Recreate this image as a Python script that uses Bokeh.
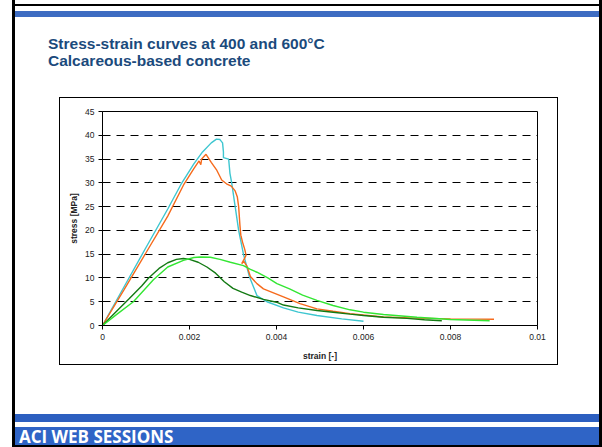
from bokeh.plotting import figure
from bokeh.models import FixedTicker, Range1d, Div, Spacer
from bokeh.layouts import column, row
from bokeh.embed import file_html
from bokeh.resources import INLINE

# ---------------- data ----------------
cyan_strain = [0, 0.0005, 0.001, 0.0015, 0.0018, 0.0021, 0.0023, 0.0025, 0.00262, 0.0027,
               0.00276, 0.00278, 0.00278, 0.0029, 0.00293, 0.00297, 0.00305, 0.00313, 0.00324,
               0.00338, 0.00355, 0.00378, 0.00416, 0.0045, 0.00493, 0.0055, 0.006]
cyan_stress = [0, 8.2, 16.4, 24.5, 29.6, 34.0, 36.5, 38.4, 39.2, 39.1,
               38.4, 36.5, 35.3, 35.0, 32.0, 30.0, 25.0, 20.0, 15.0,
               10.2, 6.3, 5.0, 3.7, 2.8, 2.1, 1.4, 0.9]

orange_strain = [0, 0.0005, 0.001, 0.0015, 0.00186, 0.0021, 0.00222, 0.00226, 0.00228, 0.00238,
                 0.0025, 0.00263, 0.00274, 0.00285, 0.00296, 0.00305, 0.0031, 0.00313, 0.00316,
                 0.00318, 0.00322, 0.00327, 0.0033, 0.00326, 0.0032, 0.00325, 0.00332, 0.0034,
                 0.00355, 0.0037, 0.00416, 0.00454, 0.00493, 0.0053, 0.00569, 0.00646, 0.00723,
                 0.008, 0.009]
orange_stress = [0, 7.6, 15.3, 23.0, 29.5, 33.0, 34.6, 33.8, 35.0, 36.0,
                 34.3, 32.6, 30.6, 29.8, 29.3, 28.3, 27.0, 25.0, 21.0,
                 19.0, 17.5, 16.0, 14.8, 14.0, 13.0, 13.5, 12.5, 10.3,
                 8.8, 7.7, 6.0, 4.6, 3.5, 3.0, 2.5, 1.8, 1.55,
                 1.4, 1.3]

dgreen_strain = [0, 0.0003, 0.0006, 0.0009, 0.00106, 0.0013, 0.0015, 0.0017, 0.00186, 0.002,
                 0.0022, 0.0024, 0.0026, 0.0028, 0.003, 0.0032, 0.0034, 0.0037, 0.004, 0.00416,
                 0.0045, 0.00493, 0.0053, 0.00569, 0.006, 0.00646, 0.007, 0.0074, 0.0078]
dgreen_stress = [0, 2.8, 5.5, 8.3, 10.0, 12.0, 13.2, 13.9, 14.1, 13.9,
                 13.3, 12.3, 11.0, 9.2, 7.8, 7.0, 6.3, 5.5, 4.9, 4.3,
                 3.7, 3.15, 2.8, 2.4, 2.1, 1.75, 1.5, 1.2, 1.0]

lgreen_strain = [0, 0.00035, 0.00071, 0.00117, 0.0015, 0.00186, 0.0021, 0.00225, 0.00248, 0.0027,
                 0.00294, 0.00324, 0.0034, 0.00355, 0.0038, 0.00401, 0.0043, 0.0046, 0.00493,
                 0.0053, 0.00569, 0.006, 0.00646, 0.00723, 0.008, 0.0089]
lgreen_stress = [0, 2.5, 5.0, 9.6, 12.3, 13.7, 14.3, 14.4, 14.35, 13.9,
                 13.3, 12.6, 11.8, 11.2, 10.0, 8.8, 7.7, 6.4, 5.3,
                 4.2, 3.3, 2.8, 2.3, 1.75, 1.25, 1.0]

x_ticks = [0, 0.002, 0.004, 0.006, 0.008, 0.01]
x_tick_labels = ["0", "0.002", "0.004", "0.006", "0.008", "0.01"]
y_ticks = [0, 5, 10, 15, 20, 25, 30, 35, 40, 45]
grid_ticks = [5, 10, 15, 20, 25, 30, 35, 40]

title_lines = ["Stress-strain curves at 400 and 600°C", "Calcareous-based concrete"]
x_label = "strain [-]"
y_label = "stress [MPa]"
footer = "ACI WEB SESSIONS"

# ---------------- chart ----------------
PW, PH = 497, 266
p = figure(width=PW, height=PH, output_backend="svg", toolbar_location=None,
           x_range=Range1d(0, 0.01), y_range=Range1d(0, 45),
           min_border_left=42, min_border_right=20,
           min_border_top=13, min_border_bottom=39, margin=0)
p.styles = {"box-shadow": "0 0 0 1px black"}
p.background_fill_color = "white"
p.border_fill_color = "white"
p.outline_line_color = "black"
p.outline_line_width = 1

p.line(cyan_strain, cyan_stress, line_color="#3EC6D0", line_width=1.4)
p.line(orange_strain, orange_stress, line_color="#F66A1C", line_width=1.4)
p.line(dgreen_strain, dgreen_stress, line_color="#137A13", line_width=1.4)
p.line(lgreen_strain, lgreen_stress, line_color="#33E633", line_width=1.4)

p.xaxis.ticker = FixedTicker(ticks=x_ticks)
p.xaxis.major_label_overrides = {t: l for t, l in zip(x_ticks, x_tick_labels)}
p.yaxis.ticker = FixedTicker(ticks=y_ticks)
for ax in (p.xaxis[0], p.yaxis[0]):
    ax.minor_tick_line_color = None
    ax.major_tick_in = 0
    ax.major_tick_out = 4
    ax.axis_line_color = "black"
    ax.major_tick_line_color = "black"
    ax.major_label_text_font = "Liberation Sans"
    ax.major_label_text_font_size = "8.5px"
    ax.major_label_text_color = "#222222"
    ax.major_label_standoff = 4
    ax.axis_label_text_font = "Liberation Sans"
    ax.axis_label_text_font_style = "bold"
    ax.axis_label_text_font_size = "8.5px"
    ax.axis_label_text_color = "#222222"
p.xaxis.axis_label = x_label
p.yaxis.axis_label = y_label
p.xaxis.axis_label_standoff = 8
p.yaxis.axis_label_standoff = 3

p.xgrid.grid_line_color = None
p.ygrid.ticker = FixedTicker(ticks=grid_ticks)
p.ygrid.grid_line_color = "black"
p.ygrid.grid_line_dash = "8 6"
p.ygrid.grid_line_width = 1

# ---------------- slide decorations ----------------
BLUE_TOP = "#3D6CC2"
BLUE_BAND = "#2C5FC0"
BLUE_FOOT = "#2F64C6"
TITLE_COLOR = "#1B4A7C"

def box(l, t, w, h, color):
    return (f'<div style="position:absolute;left:{l}px;top:{t}px;width:{w}px;'
            f'height:{h}px;background:{color};"></div>')

header_html = (
    '<div style="position:relative;width:602px;height:98px;overflow:hidden;">'
    + box(12, 4, 590, 2, "black")
    + box(15, 11, 584, 6, BLUE_TOP)
    + f'<div style="position:absolute;left:48px;top:35px;white-space:nowrap;'
      f'font-family:\'Liberation Sans\';font-weight:bold;font-size:15.5px;line-height:17px;'
      f'color:{TITLE_COLOR};">{title_lines[0]}<br>{title_lines[1]}</div>'
    + '</div>'
)
footer_html = (
    '<div style="position:relative;width:602px;height:83px;overflow:hidden;">'
    + box(15, 50, 584, 8, BLUE_BAND)
    + box(15, 63, 584, 18, BLUE_FOOT)
    + box(12, 81, 590, 2, "black")
    + f'<div style="position:absolute;left:19px;top:64px;white-space:nowrap;'
      f'font-family:\'Open Sans\';font-weight:bold;font-size:17px;line-height:17px;'
      f'color:white;">{footer}</div>'
    + '</div>'
)

header = Div(text=header_html, width=602, height=98, margin=0)
footer_div = Div(text=footer_html, width=602, height=83, margin=0)

mid = row(Spacer(width=60, height=PH, margin=0), p, Spacer(width=45, height=PH, margin=0),
          margin=0)
layout = column(header, mid, footer_div, margin=0)
layout.styles = {"background": "linear-gradient(to right, white 12px, black 12px, "
                               "black 15px, white 15px, white 599px, black 599px)"}

open("out.html", "w").write(file_html(layout, INLINE))
